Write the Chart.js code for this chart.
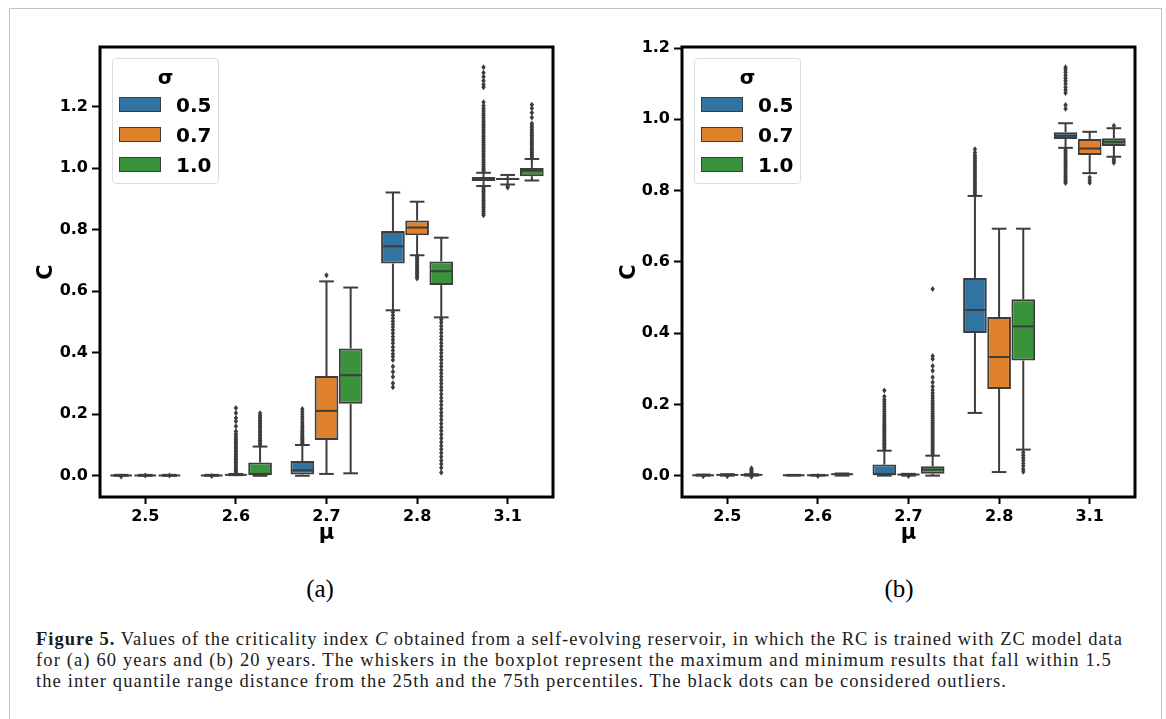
<!DOCTYPE html>
<html>
<head>
<meta charset="utf-8">
<script src="https://cdn.jsdelivr.net/npm/chart.js@4.4.1/dist/chart.umd.min.js"></script>
<style>
  body { margin: 0; background: #fff; }
  #page { position: relative; width: 1166px; height: 719px; overflow: hidden; background: #fff; }
  #border { position: absolute; left: 9px; top: 8px; width: 1153px; height: 730px; border: 1px solid #c4c4c4; box-sizing: border-box; }
  canvas { position: absolute; top: 0; }
  #chartA { left: 0; }
  #chartB { left: 583px; }
  .legend { position: absolute; width: 107px; height: 126px; border: 1px solid #dcdcdc; border-radius: 4px; background: rgba(255,255,255,0.85); box-sizing: border-box; font-family: "DejaVu Sans", sans-serif; font-weight: bold; color: #000; }
  .legend .ttl { position: absolute; left: 0; width: 100%; top: 6px; text-align: center; font-size: 20px; line-height: 24px; }
  .legend .sw { position: absolute; left: 6px; width: 42px; height: 15px; border: 1px solid #3d3d3d; box-sizing: border-box; }
  .legend .lb { position: absolute; left: 63px; font-size: 20px; line-height: 24px; }
  .sub { position: absolute; top: 574px; font-family: "Liberation Serif", serif; font-size: 25px; line-height: 30px; color: #000; transform: translateX(-50%); }
  .cap { position: absolute; left: 36px; font-family: "Liberation Serif", serif; font-size: 18.5px; line-height: 21px; color: #1a1a1a; white-space: nowrap; }
</style>
</head>
<body>
<div id="page">
  <div id="border"></div>
  <canvas id="chartA" width="583" height="560"></canvas>
  <canvas id="chartB" width="583" height="560"></canvas>
  <div class="legend" id="legA" style="left:112px; top:58px;"></div>
  <div class="legend" id="legB" style="left:694px; top:58px;"></div>
  <div class="sub" style="left:320px;">(a)</div>
  <div class="sub" style="left:899px;">(b)</div>
  <div class="cap" id="cap1" style="top:629px;" data-w="1087"><b>Figure 5.</b> Values of the criticality index <i>C</i> obtained from a self-evolving reservoir, in which the RC is trained with ZC model data</div>
  <div class="cap" id="cap2" style="top:650px;" data-w="1076">for (a) 60 years and (b) 20 years. The whiskers in the boxplot represent the maximum and minimum results that fall within 1.5</div>
  <div class="cap" id="cap3" style="top:671px;" data-w="971">the inter quantile range distance from the 25th and the 75th percentiles. The black dots can be considered outliers.</div>
</div>
<script>
const mu = ["2.5", "2.6", "2.7", "2.8", "3.1"];
const sigma = ["0.5", "0.7", "1.0"];
const colors = ["#3274a1", "#e1812c", "#3a923a"];
const lineGray = "#3d3d3d";

// panel (a), 60 years: one row per sigma, one value per mu
const aLow  = [[0.0, 0.0, 0.0, 0.538, 0.942], [0.0, 0.002, 0.006, 0.717, 0.947], [0.0, 0.0, 0.008, 0.515, 0.960]];
const aQ1   = [[0.0, 0.0, 0.004, 0.690, 0.958], [0.0, 0.002, 0.116, 0.782, 0.962], [0.0, 0.002, 0.234, 0.620, 0.974]];
const aMed  = [[0.001, 0.001, 0.018, 0.746, 0.964], [0.001, 0.003, 0.211, 0.807, 0.965], [0.001, 0.006, 0.327, 0.665, 0.992]];
const aQ3   = [[0.002, 0.002, 0.048, 0.796, 0.971], [0.002, 0.004, 0.324, 0.830, 0.968], [0.002, 0.043, 0.414, 0.697, 1.001]];
const aHigh = [[0.003, 0.003, 0.100, 0.921, 0.985], [0.003, 0.006, 0.632, 0.891, 0.978], [0.003, 0.095, 0.612, 0.774, 1.030]];
const aOut = [
  [
    [-0.002],
    [-0.001],
    [0.105, 0.109, 0.113, 0.117, 0.121, 0.125, 0.129, 0.134, 0.139, 0.144, 0.149, 0.155, 0.161, 0.168, 0.175, 0.183, 0.191, 0.199, 0.208, 0.217],
    [0.532, 0.522, 0.512, 0.502, 0.493, 0.484, 0.474, 0.463, 0.452, 0.442, 0.432, 0.419, 0.407, 0.396, 0.387, 0.376, 0.355, 0.338, 0.322, 0.301, 0.288],
    [0.991, 0.996, 1.001, 1.006, 1.012, 1.018, 1.024, 1.030, 1.036, 1.042, 1.048, 1.054, 1.060, 1.066, 1.072, 1.078, 1.084, 1.090, 1.096, 1.102, 1.108, 1.114, 1.120, 1.126, 1.132, 1.138, 1.144, 1.150, 1.157, 1.164, 1.171, 1.178, 1.186, 1.194, 1.203, 1.214, 1.263, 1.272, 1.284, 1.297, 1.310, 1.328,
     0.937, 0.931, 0.925, 0.919, 0.913, 0.907, 0.901, 0.895, 0.889, 0.883, 0.877, 0.871, 0.865, 0.858, 0.852, 0.847]
  ],
  [
    [0.001],
    [0.008, 0.013, 0.018, 0.023, 0.028, 0.033, 0.038, 0.043, 0.048, 0.053, 0.058, 0.063, 0.068, 0.073, 0.078, 0.083, 0.088, 0.093, 0.098, 0.103, 0.108, 0.113, 0.118, 0.124, 0.130, 0.137, 0.145, 0.161, 0.177, 0.188, 0.204, 0.220],
    [0.652],
    [0.712, 0.707, 0.702, 0.697, 0.692, 0.687, 0.682, 0.677, 0.672, 0.667, 0.662, 0.657, 0.652, 0.646, 0.641],
    [0.941, 0.937]
  ],
  [
    [0.001],
    [0.100, 0.105, 0.110, 0.115, 0.120, 0.125, 0.130, 0.135, 0.140, 0.145, 0.150, 0.155, 0.160, 0.165, 0.170, 0.175, 0.180, 0.185, 0.190, 0.196, 0.203],
    [],
    [0.508, 0.498, 0.487, 0.476, 0.465, 0.454, 0.443, 0.432, 0.421, 0.410, 0.399, 0.388, 0.377, 0.366, 0.355, 0.344, 0.333, 0.322, 0.311, 0.300, 0.289, 0.278, 0.266, 0.254, 0.242, 0.230, 0.218, 0.206, 0.194, 0.182, 0.170, 0.158, 0.146, 0.134, 0.122, 0.110, 0.098, 0.086, 0.074, 0.062, 0.050, 0.038, 0.026, 0.011],
    [1.036, 1.041, 1.046, 1.051, 1.056, 1.061, 1.066, 1.071, 1.076, 1.081, 1.086, 1.091, 1.096, 1.101, 1.106, 1.111, 1.116, 1.121, 1.127, 1.133, 1.139, 1.145, 1.165, 1.180, 1.195, 1.206]
  ]
];

// panel (b), 20 years
const bLow  = [[0.0, 0.0, 0.0, 0.176, 0.920], [0.0, 0.0, 0.0, 0.010, 0.849], [0.0, 0.0, 0.0, 0.073, 0.895]];
const bQ1   = [[0.0, 0.0, 0.0, 0.400, 0.945], [0.001, 0.0, 0.002, 0.243, 0.900], [0.001, 0.003, 0.005, 0.323, 0.925]];
const bMed  = [[0.001, 0.001, 0.004, 0.465, 0.954], [0.002, 0.001, 0.003, 0.333, 0.918], [0.002, 0.004, 0.017, 0.419, 0.937]];
const bQ3   = [[0.002, 0.002, 0.031, 0.555, 0.964], [0.003, 0.002, 0.004, 0.445, 0.945], [0.003, 0.005, 0.026, 0.495, 0.947]];
const bHigh = [[0.003, 0.002, 0.070, 0.785, 0.989], [0.004, 0.002, 0.005, 0.693, 0.965], [0.004, 0.006, 0.056, 0.693, 0.975]];
const bOut = [
  [
    [-0.002],
    [],
    [0.075, 0.079, 0.083, 0.087, 0.091, 0.095, 0.099, 0.103, 0.107, 0.111, 0.115, 0.119, 0.123, 0.127, 0.131, 0.135, 0.139, 0.143, 0.148, 0.153, 0.158, 0.163, 0.168, 0.174, 0.180, 0.186, 0.193, 0.200, 0.207, 0.213, 0.222, 0.239],
    [0.790, 0.795, 0.800, 0.805, 0.810, 0.815, 0.820, 0.825, 0.830, 0.835, 0.840, 0.845, 0.850, 0.855, 0.860, 0.865, 0.870, 0.875, 0.880, 0.885, 0.890, 0.895, 0.900, 0.907, 0.916],
    [1.030, 1.040, 1.074, 1.082, 1.090, 1.100, 1.108, 1.116, 1.124, 1.132, 1.140, 1.146,
     0.914, 0.909, 0.904, 0.899, 0.894, 0.889, 0.884, 0.879, 0.874, 0.869, 0.864, 0.859, 0.854, 0.849, 0.844, 0.839, 0.834, 0.829, 0.825, 0.821]
  ],
  [
    [-0.002],
    [-0.001],
    [-0.001],
    [],
    [0.837, 0.829, 0.822]
  ],
  [
    [0.008, 0.011, 0.014, 0.017, 0.021, -0.003],
    [],
    [0.060, 0.065, 0.070, 0.075, 0.080, 0.085, 0.090, 0.095, 0.100, 0.105, 0.110, 0.115, 0.120, 0.125, 0.130, 0.135, 0.140, 0.145, 0.150, 0.155, 0.160, 0.165, 0.170, 0.175, 0.180, 0.186, 0.192, 0.198, 0.204, 0.210, 0.217, 0.224, 0.232, 0.240, 0.250, 0.262, 0.276, 0.294, 0.308, 0.327, 0.336, 0.524],
    [0.065, 0.057, 0.050, 0.043, 0.035, 0.027, 0.018, 0.011],
    [0.982, 0.889, 0.884, 0.878]
  ]
];

Chart.defaults.font.family = "DejaVu Sans";
Chart.defaults.color = "#000";

// whiskers, caps, medians, outliers and the black frame
function boxExtras(low, med, high, out) {
  return {
    id: "boxExtras",
    afterDatasetsDraw(chart) {
      const ctx = chart.ctx;
      const y = chart.scales.y;
      const seg = (x1, y1, x2, y2) => {
        ctx.beginPath();
        ctx.moveTo(x1, y1);
        ctx.lineTo(x2, y2);
        ctx.stroke();
      };
      ctx.save();
      ctx.strokeStyle = lineGray;
      ctx.fillStyle = lineGray;
      ctx.lineWidth = 2;
      chart.data.datasets.forEach((ds, d) => {
        chart.getDatasetMeta(d).data.forEach((bar, i) => {
          const x = bar.x;
          const w = bar.width;
          const cap = w * 0.31;
          const yq1 = y.getPixelForValue(ds.data[i][0]);
          const yq3 = y.getPixelForValue(ds.data[i][1]);
          const yLo = y.getPixelForValue(low[d][i]);
          const yHi = y.getPixelForValue(high[d][i]);
          seg(x, yq3, x, yHi);
          seg(x, yq1, x, yLo);
          seg(x - cap, yHi, x + cap, yHi);
          seg(x - cap, yLo, x + cap, yLo);
          const ym = y.getPixelForValue(med[d][i]);
          seg(x - w / 2 + 1, ym, x + w / 2 - 1, ym);
          out[d][i].forEach((v) => {
            const py = y.getPixelForValue(v);
            ctx.beginPath();
            ctx.moveTo(x, py - 3);
            ctx.lineTo(x + 2.2, py);
            ctx.lineTo(x, py + 3);
            ctx.lineTo(x - 2.2, py);
            ctx.closePath();
            ctx.fill();
          });
        });
      });
      const a = chart.chartArea;
      ctx.strokeStyle = "#000";
      ctx.lineWidth = 3;
      ctx.strokeRect(a.left, a.top, a.right - a.left, a.bottom - a.top);
      ctx.restore();
    }
  };
}

function makePanel(id, low, q1, med, q3, high, out, yMin, yMax, yWidth, padRight) {
  const datasets = sigma.map((s, d) => ({
    label: s,
    data: q1[d].map((v, i) => [v, q3[d][i]]),
    backgroundColor: colors[d],
    borderColor: lineGray,
    borderWidth: 2,
    borderSkipped: false,
    categoryPercentage: 0.8,
    barPercentage: 0.98
  }));

  return new Chart(document.getElementById(id), {
    type: "bar",
    data: { labels: mu, datasets: datasets },
    options: {
      responsive: false,
      animation: false,
      devicePixelRatio: 1,
      layout: { padding: { top: 47, right: padRight, left: 0, bottom: 0 } },
      plugins: { legend: { display: false }, tooltip: { enabled: false } },
      scales: {
        x: {
          offset: true,
          grid: { display: true, offset: false, drawOnChartArea: false, tickLength: 7, tickWidth: 2, tickColor: "#000" },
          border: { display: false },
          ticks: { font: { size: 16, weight: "bold" }, padding: 3, color: "#000" },
          title: { display: true, text: "μ", font: { size: 21, weight: "bold" }, padding: { top: 0, bottom: 14 }, color: "#000" },
          afterFit: (scale) => { scale.height = 63; }
        },
        y: {
          min: yMin,
          max: yMax,
          grid: { display: true, drawOnChartArea: false, tickLength: 8, tickWidth: 2, tickColor: "#000" },
          border: { display: false },
          ticks: {
            stepSize: 0.2,
            includeBounds: false,
            font: { size: 16, weight: "bold" },
            padding: 4,
            color: "#000",
            callback: (v) => v.toFixed(1)
          },
          title: { display: true, text: "C", font: { size: 21, weight: "bold" }, padding: { top: 34, bottom: 0 }, color: "#000" },
          afterFit: (scale) => { scale.width = yWidth; }
        }
      }
    },
    plugins: [boxExtras(low, med, high, out)]
  });
}

makePanel("chartA", aLow, aQ1, aMed, aQ3, aHigh, aOut, -0.069, 1.394, 100, 30);
makePanel("chartB", bLow, bQ1, bMed, bQ3, bHigh, bOut, -0.060, 1.203, 99, 31);

// legends
function buildLegend(id) {
  const el = document.getElementById(id);
  let html = '<div class="ttl">σ</div>';
  sigma.forEach((s, d) => {
    const cy = 46 + d * 30;
    html += '<div class="sw" style="top:' + (cy - 8) + 'px;background:' + colors[d] + '"></div>';
    html += '<div class="lb" style="top:' + (cy - 12) + 'px">' + s + '</div>';
  });
  el.innerHTML = html;
}
buildLegend("legA");
buildLegend("legB");

// fit caption lines to the measured widths
["cap1", "cap2", "cap3"].forEach((id) => {
  const el = document.getElementById(id);
  const target = parseFloat(el.dataset.w);
  const w = el.getBoundingClientRect().width;
  const n = el.textContent.length;
  el.style.letterSpacing = ((target - w) / n).toFixed(3) + "px";
});
</script>
</body>
</html>
